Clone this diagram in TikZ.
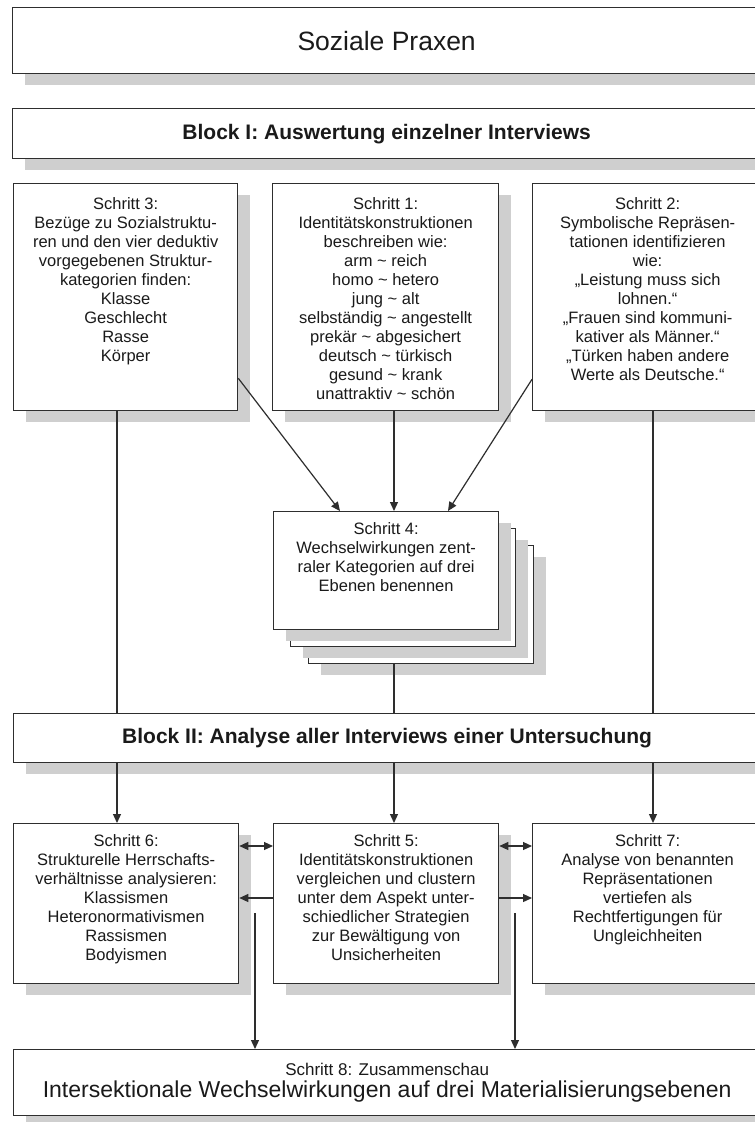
\documentclass[tikz,border=0pt]{standalone}
\usepackage{fontspec}
\setmainfont{Liberation Sans}
\usetikzlibrary{arrows.meta,shadows,calc}
\definecolor{rahmen}{HTML}{2E2E2E}
\definecolor{schatten}{HTML}{CFCFCF}
\definecolor{schrift}{HTML}{1A1A1A}

\begin{document}
\begin{tikzpicture}[x=1pt,y=-1pt,>={Triangle[length=9pt,width=8pt]},
   kasten/.style={rectangle,draw=rahmen,line width=1.3pt,fill=white,inner sep=0pt,
      anchor=north west,text=schrift,
      drop shadow={shadow xshift=12pt,shadow yshift=-11pt,fill=schatten,opacity=1}},
   kopf/.style={kasten,font=\fontsize{21}{24}\selectfont\bfseries},
   schritt/.style={anchor=north,inner sep=0pt,align=center,text=schrift,
      font=\fontsize{16.5}{19}\selectfont},
   linie/.style={draw=rahmen,line width=1.2pt},
   pfeil/.style={linie,->},
   doppel/.style={linie,<->}]

  \fill[white] (0,0) rectangle (755,1122);
  \useasboundingbox (0,0) rectangle (755,1122);

  % Kopf und Block I
  \node[kasten,minimum width=748pt,minimum height=66pt,font=\fontsize{26.5}{28}\selectfont] (praxen) at (12,7) {Soziale Praxen};
  \node[kopf,minimum width=748pt,minimum height=50pt] (block1) at (12,108) {Block I: Auswertung einzelner Interviews};

  \node[kasten,minimum width=224pt,minimum height=227pt] (s3) at (13,183) {};
  \node[kasten,minimum width=226pt,minimum height=227pt] (s1) at (272,183) {};
  \node[kasten,minimum width=230pt,minimum height=227pt] (s2) at (532,183) {};

  \node[schritt] (t3) at ([yshift=-14pt]s3.north) {Schritt 3:\\Bezüge zu Sozialstruktu-\\ren und den vier deduktiv\\vorgegebenen Struktur-\\kategorien finden:\\Klasse\\Geschlecht\\Rasse\\Körper};
  \node[schritt] (t1) at ([yshift=-14pt]s1.north) {Schritt 1:\\Identitätskonstruktionen\\beschreiben wie:\\arm \textasciitilde{} reich\\homo \textasciitilde{} hetero\\jung \textasciitilde{} alt\\selbständig \textasciitilde{} angestellt\\prekär \textasciitilde{} abgesichert\\deutsch \textasciitilde{} türkisch\\gesund \textasciitilde{} krank\\unattraktiv \textasciitilde{} schön};
  \node[schritt] (t2) at ([yshift=-14pt]s2.north) {Schritt 2:\\Symbolische Repräsen-\\tationen identifizieren\\wie:\\„Leistung muss sich\\lohnen.“\\„Frauen sind kommuni-\\kativer als Männer.“\\„Türken haben andere\\Werte als Deutsche.“};

  % Schritt 4 als Stapel
  \node[kasten,minimum width=225pt,minimum height=118pt] (s4c) at (308,545) {};
  \node[kasten,minimum width=225pt,minimum height=118pt] (s4b) at (290,528) {};
  \node[kasten,minimum width=225pt,minimum height=118pt] (s4) at (273,511) {};
  \node[schritt] (t4) at ([yshift=-11pt]s4.north) {Schritt 4:\\Wechselwirkungen zent-\\raler Kategorien auf drei\\Ebenen benennen};

  % Block II
  \node[kopf,minimum width=747pt,minimum height=49pt] (block2) at (13,713) {Block II: Analyse aller Interviews einer Untersuchung};

  \node[kasten,minimum width=225pt,minimum height=160pt] (s6) at (13,823) {};
  \node[kasten,minimum width=225pt,minimum height=160pt] (s5) at (273,823) {};
  \node[kasten,minimum width=230pt,minimum height=160pt] (s7) at (532,823) {};

  \node[schritt] (t6) at ([yshift=-11pt]s6.north) {Schritt 6:\\Strukturelle Herrschafts-\\verhältnisse analysieren:\\Klassismen\\Heteronormativismen\\Rassismen\\Bodyismen};
  \node[schritt] (t5) at ([yshift=-11pt]s5.north) {Schritt 5:\\Identitätskonstruktionen\\vergleichen und clustern\\unter dem Aspekt unter-\\schiedlicher Strategien\\zur Bewältigung von\\Unsicherheiten};
  \node[schritt] (t7) at ([yshift=-11pt]s7.north) {Schritt 7:\\Analyse von benannten\\Repräsentationen\\vertiefen als\\Rechtfertigungen für\\Ungleichheiten};

  \node[kasten,minimum width=747pt,minimum height=66pt,align=center,font=\fontsize{23}{22}\selectfont] (s8) at (13,1049) {{\fontsize{17}{20}\selectfont Schritt 8: Zusammenschau}\\Intersektionale Wechselwirkungen auf drei Materialisierungsebenen};

  % Verbindungen
  \draw[pfeil] ($(s3.south east)+(0,-33)$) -- ($(s4.north west)+(67,0)$);
  \draw[pfeil] ($(s1.south west)+(122,0)$) coordinate (m1) -- (m1 |- s4.north);
  \draw[pfeil] ($(s2.south west)+(0,-32)$) -- ($(s4.north west)+(175,0)$);

  \draw[linie] ($(s3.south west)+(104,0)$) coordinate (l3) -- (l3 |- block2.north);
  \draw[linie] (m1 |- s4c.south) -- (m1 |- block2.north);
  \draw[linie] ($(s2.south west)+(121,0)$) coordinate (l2) -- (l2 |- block2.north);

  \foreach \x in {l3,m1,l2} \draw[pfeil] (\x |- block2.south) -- (\x |- s5.north);

  \draw[doppel] ($(s6.north east)+(0,23)$) -- ($(s5.north west)+(0,23)$);
  \draw[doppel] ($(s5.north east)+(0,23)$) -- ($(s7.north west)+(0,23)$);
  \draw[pfeil] ($(s5.north west)+(0,75)$) -- ($(s6.north east)+(0,75)$);
  \draw[pfeil] ($(s5.north east)+(0,75)$) -- ($(s7.north west)+(0,75)$);

  \coordinate (z6) at (255,913);
  \coordinate (z7) at (515,913);
  \foreach \z in {z6,z7} \draw[pfeil] (\z) -- (\z |- s8.north);
\end{tikzpicture}
\end{document}
